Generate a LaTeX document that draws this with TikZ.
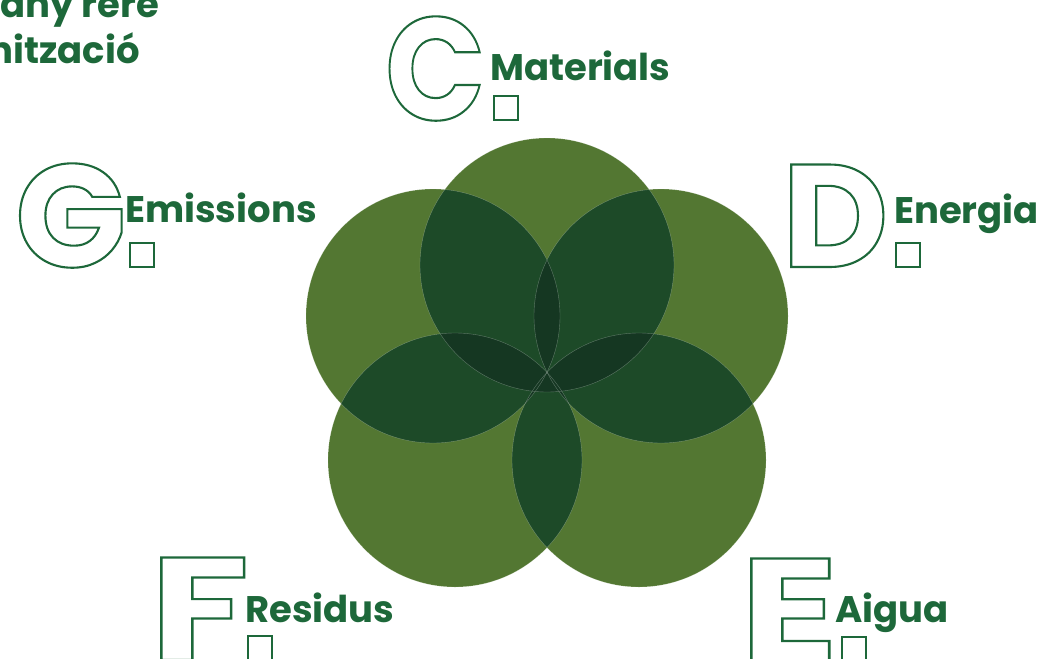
\documentclass[tikz,border=0pt]{standalone}
\usepackage{fontspec}
\setmainfont{Poppins}
\usepackage{tikz}
\definecolor{leaf}{RGB}{83,119,50}
\definecolor{dark}{RGB}{29,74,40}
\definecolor{darker}{RGB}{21,55,34}
\definecolor{ink}{RGB}{29,104,58}
\newcommand{\hollow}[2][1]{\scalebox{#1}[1]{\special{pdf:literal direct 1 Tr 2.1 w}#2\special{pdf:literal direct 0 Tr}}}

\begin{document}
\begin{tikzpicture}[x=1pt, y=-1pt,
  big/.style={anchor=base west, inner sep=0, text=ink, font=\fontsize{146}{146}\selectfont\bfseries},
  lab/.style={anchor=base west, inner sep=0, text=ink, font=\fontsize{37}{40}\selectfont\bfseries},
  dot/.style={draw=ink, line width=1.8, minimum size=24, inner sep=0}]
  \useasboundingbox (0,0) rectangle (1053,659);

  \coordinate (mat) at (547,265);
  \coordinate (emi) at (433,316);
  \coordinate (ene) at (661,316);
  \coordinate (res) at (455,460);
  \coordinate (aig) at (639,460);

  \foreach \c in {mat,emi,ene,res,aig}
    \fill[leaf] (\c) circle[radius=127];
  \foreach \a/\b in {mat/ene,mat/aig,mat/res,mat/emi,ene/aig,ene/res,ene/emi,aig/res,aig/emi,res/emi} {
    \begin{scope}
      \clip (\a) circle[radius=127];
      \fill[dark] (\b) circle[radius=127];
    \end{scope}
  }
  \foreach \a/\b/\d in {mat/ene/aig,mat/ene/res,mat/ene/emi,mat/aig/res,mat/aig/emi,mat/res/emi,ene/aig/res,ene/aig/emi,ene/res/emi,aig/res/emi} {
    \begin{scope}
      \clip (\a) circle[radius=127];
      \clip (\b) circle[radius=127];
      \fill[darker] (\d) circle[radius=127];
    \end{scope}
  }
  \foreach \c in {mat,emi,ene,res,aig}
    \draw[white, opacity=0.3, line width=0.4] (\c) circle[radius=127];

  \node[anchor=base east, inner sep=0, text=ink, font=\fontsize{37}{40}\selectfont\bfseries] (top1) at (159,17) {any rere};
  \node[anchor=base east, inner sep=0, text=ink, font=\fontsize{37}{40}\selectfont\bfseries] (top2) at (140,63) {nització};

  \node[dot] (dotC) at (506,108) {};
  \node[dot] (dotG) at (142,255) {};
  \node[dot] (dotD) at (908,255) {};
  \node[dot] (dotE) at (854,649) {};
  \node[dot] (dotF) at (260,648) {};

  \node[lab] (labMat) at (490,80) {Materials};
  \node[lab] (labEmi) at (125,222) {Emissions};
  \node[lab] (labEne) at (894,223) {Energia};
  \node[lab] (labRes) at (245,622) {Residus};
  \node[lab] (labAig) at (835,622) {Aigua};

  \node[big] (letC) at (385,120) {\hollow[0.9]{C}};
  \node[big] (letG) at (15,267) {\hollow{G}};
  \node[big] (letD) at (782,267) {\hollow{D}};
  \node[big] (letE) at (740,661) {\hollow[1.24]{E}};
  \node[big] (letF) at (150,660) {\hollow[1.24]{F}};
\end{tikzpicture}
\end{document}
